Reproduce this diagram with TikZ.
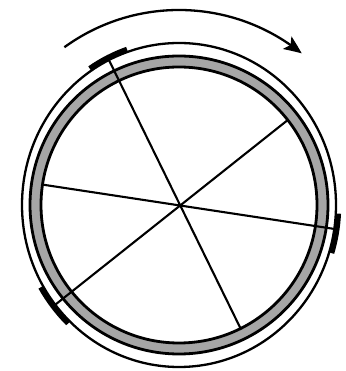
\documentclass[tikz,border=0pt]{standalone}
\usetikzlibrary{arrows.meta,bending}
\begin{document}
\begin{tikzpicture}[x=1pt,y=1pt,
  ringline/.style={line width=2.8pt},
  outerline/.style={line width=2.3pt},
  spoke/.style={line width=2.1pt},
  padline/.style={line width=5.5pt},
  band/.style={fill=gray!70, even odd rule},
]
\useasboundingbox (0,0) rectangle (345,371);
\begin{scope}[shift={(179,166)}]
  \coordinate (c) at (0,0);
  % gray band
  \fill[band] (c) circle[radius=149] (c) circle[radius=138];
  \draw[ringline] (c) circle[radius=149];
  \draw[ringline] (c) circle[radius=138];
  % outer rim
  \draw[outerline] (c) ellipse[x radius=157, y radius=162];
  % spokes
  \coordinate (a1) at (116.5:160 and 165);
  \coordinate (a2) at (296.5:138);
  \coordinate (b1) at (-8.5:160 and 165);
  \coordinate (b2) at (171.5:138);
  \coordinate (c1) at (218:160 and 165);
  \coordinate (c2) at (38:138);
  \draw[spoke] (a1) -- (a2);
  \draw[spoke] (b1) -- (b2);
  \draw[spoke] (c1) -- (c2);
  % pads
  \draw[padline] (109:159.5 and 164.5) arc[start angle=109, end angle=124, x radius=159.5, y radius=164.5];
  \draw[padline] (-3:159.5 and 164.5) arc[start angle=-3, end angle=-17, x radius=159.5, y radius=164.5];
  \draw[padline] (210:159.5 and 164.5) arc[start angle=210, end angle=226, x radius=159.5, y radius=164.5];
  % rotation arrow
  \coordinate (r1) at (126:195);
  \draw[line width=2.3pt, -{Stealth[length=18pt, width=15pt, inset=4pt, bend]}] (r1) arc[start angle=126, end angle=51, radius=195];
\end{scope}
\end{tikzpicture}
\end{document}
